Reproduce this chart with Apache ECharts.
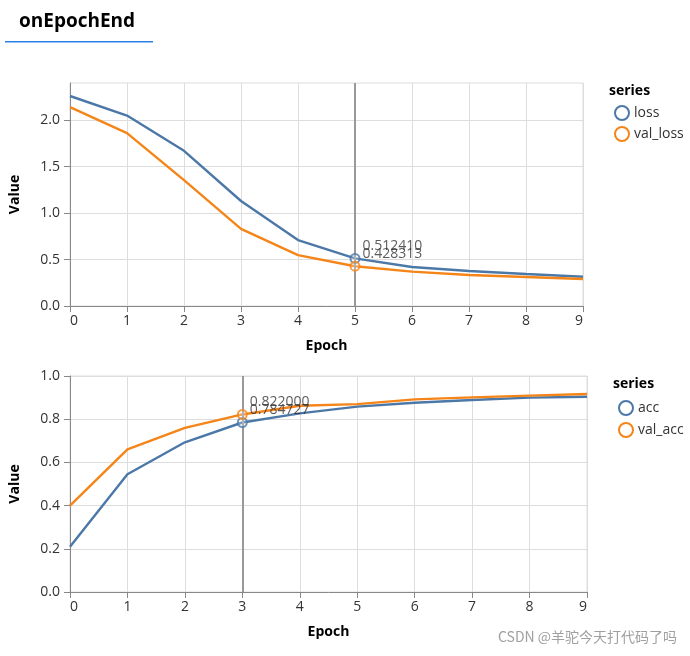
<!DOCTYPE html>
<html>
<head>
<meta charset="utf-8">
<script src="https://cdn.jsdelivr.net/npm/echarts@6/dist/echarts.min.js"></script>
<style>
html,body{margin:0;padding:0;background:#fff;}
#chart{width:690px;height:656px;}
</style>
</head>
<body>
<div id="chart"></div>
<script>
// ---- data ----
const epochs = [0, 1, 2, 3, 4, 5, 6, 7, 8, 9];
const loss    = [2.26, 2.05, 1.67, 1.13, 0.71, 0.512410, 0.42, 0.376, 0.344, 0.315];
const valLoss = [2.14, 1.86, 1.355, 0.83, 0.548, 0.428313, 0.37, 0.333, 0.312, 0.29];
const acc     = [0.21, 0.545, 0.693, 0.784727, 0.827, 0.858, 0.876, 0.889, 0.900, 0.904];
const valAcc  = [0.40, 0.66, 0.76, 0.822000, 0.862, 0.870, 0.892, 0.901, 0.909, 0.917];
const lossTicks = [0, 0.5, 1.0, 1.5, 2.0];
const accTicks = [0, 0.2, 0.4, 0.6, 0.8, 1.0];
const hoverEpochLoss = 5;
const hoverEpochAcc = 3;
const tabTitle = 'onEpochEnd';
const watermark = 'CSDN @羊驼今天打代码了吗';

const BLUE = '#4c78a8', ORANGE = '#f58518';
const FONT = '"Open Sans", "Noto Sans", sans-serif';

function pairs(arr) { return epochs.map((e, i) => [e, arr[i]]); }

function xAxis(gridIndex) {
  return {
    type: 'value', gridIndex, min: 0, max: 9, interval: 1,
    name: 'Epoch', nameLocation: 'middle', nameGap: 33,
    nameTextStyle: { fontFamily: FONT, fontWeight: 'bold', fontSize: 14, color: '#000' },
    axisLine: { show: true, lineStyle: { color: '#888', width: 1 } },
    axisTick: { show: true, length: 6, lineStyle: { color: '#888' } },
    axisLabel: { fontFamily: FONT, fontSize: 14, color: '#333', margin: 8,
      alignMinLabel: 'left', alignMaxLabel: 'right' },
    splitLine: { show: true, lineStyle: { color: '#ddd', width: 1 } }
  };
}
function yAxis(gridIndex, max, interval, ticks) {
  return {
    type: 'value', gridIndex, min: 0, max, interval,
    name: 'Value', nameLocation: 'middle', nameGap: 48, nameRotate: 90,
    nameTextStyle: { fontFamily: FONT, fontWeight: 'bold', fontSize: 14, color: '#000' },
    axisLine: { show: true, lineStyle: { color: '#888', width: 1 } },
    axisTick: { show: true, length: 6, lineStyle: { color: '#888' }, customValues: ticks },
    axisLabel: { fontFamily: FONT, fontSize: 14, color: '#333', margin: 10,
      customValues: ticks, formatter: v => Number(v).toFixed(1) },
    splitLine: { show: true, lineStyle: { color: '#ddd', width: 1 } }
  };
}
function lineSeries(name, arr, color, idx) {
  return {
    name, type: 'line', xAxisIndex: idx, yAxisIndex: idx, data: pairs(arr),
    showSymbol: false, symbol: 'emptyCircle', color,
    lineStyle: { color, width: 2.4 }, silent: true, animation: false, z: 3
  };
}
function hoverSeries(name, arr, color, idx, ep, withRule) {
  const s = {
    name, type: 'scatter', xAxisIndex: idx, yAxisIndex: idx,
    data: [[ep, arr[epochs.indexOf(ep)]]],
    symbol: 'circle', symbolSize: 9,
    itemStyle: { color: 'rgba(255,255,255,0.3)', borderColor: color, borderWidth: 2 },
    label: { show: true, position: 'right', distance: 2, offset: [0, -12],
      formatter: p => p.value[1].toFixed(6),
      fontFamily: FONT, fontSize: 14, color: '#333' },
    animation: false, silent: true, z: 5
  };
  if (withRule) {
    s.markLine = {
      silent: true, symbol: ['none', 'none'], animation: false,
      label: { show: false },
      lineStyle: { color: '#999', width: 2, type: 'solid' },
      data: [{ xAxis: ep }]
    };
  }
  return s;
}
function legendItem(name, color) {
  return { name, icon: 'circle', itemStyle: { color: '#fff', borderColor: color, borderWidth: 2 } };
}

const chart = echarts.init(document.getElementById('chart'), null, { renderer: 'canvas' });
chart.setOption({
  animation: false,
  backgroundColor: '#fff',
  textStyle: { fontFamily: FONT },
  title: [
    { text: tabTitle, left: 19, top: 12, padding: 0, textStyle: { fontFamily: FONT, fontWeight: 'bold', fontSize: 19, color: '#000' } },
    { text: 'series', left: 609, top: 84, padding: 0, textStyle: { fontFamily: FONT, fontWeight: 'bold', fontSize: 14, color: '#000' } },
    { text: 'series', left: 613, top: 377, padding: 0, textStyle: { fontFamily: FONT, fontWeight: 'bold', fontSize: 14, color: '#000' } }
  ],
  graphic: [
    { type: 'rect', shape: { x: 5, y: 41, width: 148, height: 1.5 }, style: { fill: '#2b80e6' } },
    { type: 'text', left: 498, top: 630, style: { text: watermark, fontFamily: '"Noto Sans CJK SC", sans-serif', fontSize: 14, fill: '#a0a0a0' } }
  ],
  legend: [
    { orient: 'vertical', left: 609, top: 100, itemWidth: 14, itemHeight: 14, itemGap: 5,
      textStyle: { fontFamily: FONT, fontSize: 14, color: '#333' },
      selectedMode: false,
      data: [legendItem('loss', BLUE), legendItem('val_loss', ORANGE)] },
    { orient: 'vertical', left: 613, top: 395, itemWidth: 14, itemHeight: 14, itemGap: 6,
      textStyle: { fontFamily: FONT, fontSize: 14, color: '#333' },
      selectedMode: false,
      data: [legendItem('acc', BLUE), legendItem('val_acc', ORANGE)] }
  ],
  grid: [
    { left: 70, right: 107, top: 83, bottom: 350, show: true, borderColor: '#ddd', borderWidth: 1 },
    { left: 70, right: 103, top: 376, bottom: 64, show: true, borderColor: '#ddd', borderWidth: 1 }
  ],
  xAxis: [xAxis(0), xAxis(1)],
  yAxis: [yAxis(0, 2.4, 0.5, lossTicks), yAxis(1, 1.0, 0.2, accTicks)],
  series: [
    lineSeries('loss', loss, BLUE, 0),
    lineSeries('val_loss', valLoss, ORANGE, 0),
    lineSeries('acc', acc, BLUE, 1),
    lineSeries('val_acc', valAcc, ORANGE, 1),
    hoverSeries('loss', loss, BLUE, 0, hoverEpochLoss, true),
    hoverSeries('val_loss', valLoss, ORANGE, 0, hoverEpochLoss, false),
    hoverSeries('acc', acc, BLUE, 1, hoverEpochAcc, true),
    hoverSeries('val_acc', valAcc, ORANGE, 1, hoverEpochAcc, false)
  ]
});
</script>
</body>
</html>
